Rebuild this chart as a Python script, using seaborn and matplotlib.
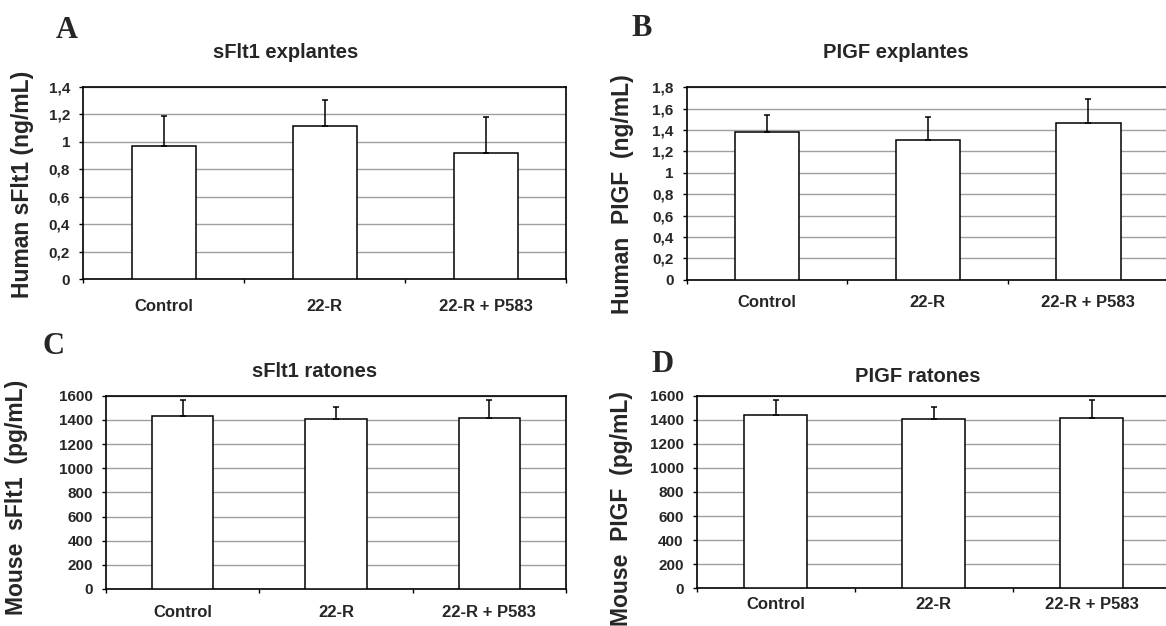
import numpy as np
import pandas as pd
import matplotlib
matplotlib.use("Agg")
import matplotlib.pyplot as plt
import seaborn as sns
from matplotlib.ticker import FixedLocator

# ---------------- data ----------------
categories = ["Control", "22-R", "22-R + P583"]

human_sflt1 = [0.970, 1.113, 0.916]
human_sflt1_err = [0.215, 0.190, 0.262]

human_plgf = [1.378, 1.309, 1.470]
human_plgf_err = [0.162, 0.215, 0.218]

mouse_sflt1 = [1436, 1406, 1415]
mouse_sflt1_err = [126, 103, 146]

mouse_plgf = [1436, 1406, 1415]
mouse_plgf_err = [126, 103, 146]

ticks_human_sflt1 = [0, 0.2, 0.4, 0.6, 0.8, 1.0, 1.2, 1.4]
ticklabels_human_sflt1 = ["0", "0,2", "0,4", "0,6", "0,8", "1", "1,2", "1,4"]
ticks_human_plgf = [0, 0.2, 0.4, 0.6, 0.8, 1.0, 1.2, 1.4, 1.6, 1.8]
ticklabels_human_plgf = ["0", "0,2", "0,4", "0,6", "0,8", "1", "1,2", "1,4", "1,6", "1,8"]
ticks_mouse = [0, 200, 400, 600, 800, 1000, 1200, 1400, 1600]
ticklabels_mouse = ["0", "200", "400", "600", "800", "1000", "1200", "1400", "1600"]

titles = ["sFlt1 explantes", "PIGF explantes", "sFlt1 ratones", "PIGF ratones"]
ylabels = ["Human sFlt1 (ng/mL)", "Human  PIGF  (ng/mL)",
           "Mouse  sFlt1  (pg/mL)", "Mouse  PIGF  (pg/mL)"]
letters = ["A", "B", "C", "D"]

# ---------------- style ----------------
sns.set_style("white")
plt.rcParams["font.family"] = ["Liberation Sans", "DejaVu Sans"]
plt.rcParams["font.weight"] = "bold"

W, H = 1166, 626
fig = plt.figure(figsize=(W / 100, H / 100), dpi=100)


def fx(x):
    return x / W


def fy(y):
    return 1 - y / H


def make_axes(left, top, right, bottom):
    return fig.add_axes([fx(left), fy(bottom), fx(right) - fx(left), (bottom - top) / H])


panels = [
    dict(box=(83.3, 86.7, 566.3, 279.3), vals=human_sflt1, errs=human_sflt1_err,
         ticks=ticks_human_sflt1, tl=ticklabels_human_sflt1, ymax=1.4,
         title_xy=(0.418, 1.18), ylab_x=-0.102, ylab_y=0.495, xpad=14.5,
         letter_xy=(67, 30)),
    dict(box=(686.7, 87.3, 1168.7, 279.7), vals=human_plgf, errs=human_plgf_err,
         ticks=ticks_human_plgf, tl=ticklabels_human_plgf, ymax=1.8,
         title_xy=(0.434, 1.183), ylab_x=-0.109, ylab_y=0.445, xpad=11,
         letter_xy=(642, 29)),
    dict(box=(106, 395.7, 566, 589), vals=mouse_sflt1, errs=mouse_sflt1_err,
         ticks=ticks_mouse, tl=ticklabels_mouse, ymax=1600,
         title_xy=(0.454, 1.123), ylab_x=-0.17, ylab_y=0.476, xpad=11.5,
         letter_xy=(53, 346)),
    dict(box=(696.7, 395.7, 1170.7, 588.3), vals=mouse_plgf, errs=mouse_plgf_err,
         ticks=ticks_mouse, tl=ticklabels_mouse, ymax=1600,
         title_xy=(0.467, 1.102), ylab_x=-0.134, ylab_y=0.415, xpad=6,
         letter_xy=(662, 365)),
]

for i, p in enumerate(panels):
    ax = make_axes(*p["box"])
    df = pd.DataFrame({"group": categories, "value": p["vals"]})
    sns.barplot(data=df, x="group", y="value", color="white", edgecolor="black",
                linewidth=1.1, width=0.4, errorbar=None, ax=ax, zorder=3,
                saturation=1)
    # one-sided error bars from each bar top
    for patch, err in zip(ax.patches, p["errs"]):
        xc = patch.get_x() + patch.get_width() / 2
        yt = patch.get_height()
        ax.errorbar(xc, yt, yerr=[[0], [err]], fmt="none", ecolor="black",
                    elinewidth=1.1, capsize=2.3, capthick=1.1, zorder=4)
    ax.set_xlim(-0.5, 2.5)
    ax.set_ylim(0, p["ymax"])
    ax.yaxis.set_major_locator(FixedLocator(p["ticks"]))
    ax.set_yticklabels(p["tl"], fontsize=11, fontweight="bold")
    ax.set_xticks(range(len(categories)))
    ax.set_xticklabels(categories, fontsize=12, fontweight="bold")
    ax.xaxis.set_minor_locator(FixedLocator([-0.5, 0.5, 1.5, 2.5]))
    ax.tick_params(axis="x", which="major", length=0, pad=p["xpad"])
    ax.tick_params(axis="x", which="minor", length=3, width=1, color="black",
                   direction="out", bottom=True)
    ax.tick_params(axis="y", which="major", length=3, width=1, color="black",
                   direction="out", left=True, pad=6.5)
    ax.yaxis.grid(True, color="#a0a0a0", linewidth=1)
    ax.xaxis.grid(False)
    ax.set_axisbelow(True)
    for s in ax.spines.values():
        s.set_visible(True)
        s.set_color("black")
        s.set_linewidth(1.2)
    ax.set_xlabel("")
    ax.set_ylabel(ylabels[i], fontsize=16.5, fontweight="bold")
    ax.yaxis.set_label_coords(p["ylab_x"], p["ylab_y"])
    tx, ty = p["title_xy"]
    ax.set_title(titles[i], x=tx, y=ty, va="center", pad=0,
                 fontsize=14.5, fontweight="bold")
    lx, ly = p["letter_xy"]
    fig.text(fx(lx), fy(ly), letters[i], ha="center", va="center",
             fontsize=22, fontweight="bold", family=["Liberation Serif", "DejaVu Serif"])

fig.savefig("out.png", dpi=100)
